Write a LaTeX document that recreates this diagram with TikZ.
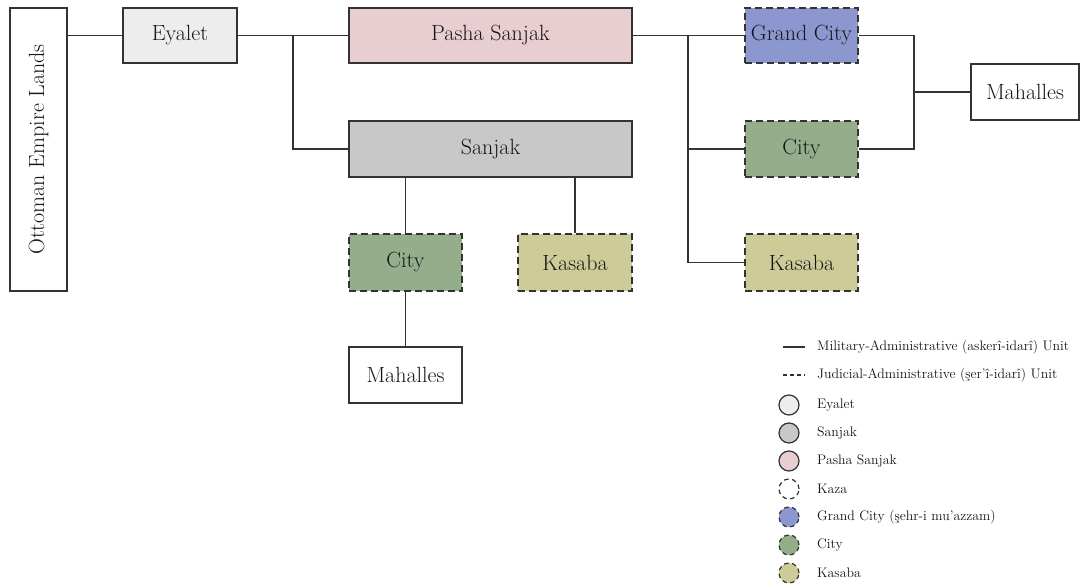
\documentclass[tikz,border=0pt]{standalone}
\usepackage{fontspec}
\definecolor{cEy}{HTML}{EDEDED}
\definecolor{cSa}{HTML}{C8C8C8}
\definecolor{cPa}{HTML}{E8CDD1}
\definecolor{cGr}{HTML}{8C97D0}
\definecolor{cCi}{HTML}{94AE8B}
\definecolor{cKa}{HTML}{CDCB98}
\definecolor{cLn}{HTML}{333333}
\definecolor{cTx}{HTML}{161616}
\begin{document}
\begin{tikzpicture}[x=1pt,y=-1pt,
  box/.style={draw=cLn,line width=1.3pt,inner sep=0pt,text=cTx,font=\fontsize{22}{26}\selectfont},
  dbox/.style={box,dash pattern=on 7pt off 4pt},
  conn/.style={draw=cLn,line width=1.3pt},
  lgc/.style={circle,draw=cLn,line width=1.2pt,minimum size=20pt,inner sep=0pt},
  lgd/.style={lgc,dash pattern=on 4.5pt off 3.5pt},
  lgt/.style={anchor=west,inner sep=0pt,text=cTx,font=\fontsize{13.8}{16}\selectfont}]
\useasboundingbox (0,0) rectangle (1080,588);
% boxes
\node[box,fill=white,minimum width=57pt,minimum height=283pt] (ot) at (38.5,149.5) {\rotatebox{90}{Ottoman Empire Lands}};
\node[box,fill=cEy,minimum width=114pt,minimum height=55pt] (ey) at (180,35.5) {Eyalet};
\node[box,fill=cPa,minimum width=283pt,minimum height=55pt] (pa) at (490.5,35.5) {Pasha Sanjak};
\node[box,fill=cSa,minimum width=283pt,minimum height=56pt] (sa) at (490.5,149) {Sanjak};
\node[dbox,fill=cCi,minimum width=113pt,minimum height=57pt] (cl) at (405.5,262.5) {City};
\node[dbox,fill=cKa,minimum width=114pt,minimum height=57pt] (kl) at (575,262.5) {Kasaba};
\node[box,fill=white,minimum width=113pt,minimum height=56pt] (ml) at (405.5,375) {Mahalles};
\node[dbox,fill=cGr,minimum width=113pt,minimum height=55pt] (gc) at (801.5,35.5) {Grand City};
\node[dbox,fill=cCi,minimum width=113pt,minimum height=56pt] (cr) at (801.5,149) {City};
\node[dbox,fill=cKa,minimum width=113pt,minimum height=57pt] (kr) at (801.5,262.5) {Kasaba};
\node[box,fill=white,minimum width=108pt,minimum height=56pt] (mr) at (1025,92) {Mahalles};
% connectors
\coordinate (j1) at (293,35.5);
\coordinate (j2) at (688,35.5);
\coordinate (j3) at (914,92);
\draw[conn] (ey.west -| ot.east) -- (ey.west);
\draw[conn] (ey.east) -- (pa.west);
\draw[conn] (j1) |- (sa.west);
\draw[conn] (pa.east) -- (gc.west);
\draw[conn] (j2) |- (cr.west);
\draw[conn] (j2) |- (kr.west);
\draw[conn] (gc.east) -| (j3) |- (cr.east);
\draw[conn] (j3) -- (mr.west);
\draw[conn] (cl.north |- sa.south) -- (cl.north);
\draw[conn] (kl.north |- sa.south) -- (kl.north);
\draw[conn] (cl.south) -- (ml.north);
% legend
\coordinate (l1a) at (783,347); \coordinate (l1b) at (805,347);
\coordinate (l2a) at (783,375); \coordinate (l2b) at (805,375);
\draw[conn,line width=1.2pt] (l1a) -- (l1b);
\draw[conn,line width=1.2pt,dash pattern=on 3.5pt off 3.5pt] (l2a) -- (l2b);
\node[lgt] (t1) at (817,347) {Military-Administrative (askerî-idarî) Unit};
\node[lgt] (t2) at (817,375) {Judicial-Administrative (şer’î-idarî) Unit};
\node[lgc,fill=cEy] (c1) at (789,405) {};
\node[lgc,fill=cSa] (c2) at (789,433) {};
\node[lgc,fill=cPa] (c3) at (789,461) {};
\node[lgd,fill=white] (c4) at (789,489) {};
\node[lgd,fill=cGr] (c5) at (789,517) {};
\node[lgd,fill=cCi] (c6) at (789,545) {};
\node[lgd,fill=cKa] (c7) at (789,573) {};
\node[lgt] (e1) at (817,405) {Eyalet};
\node[lgt] (e2) at (817,433) {Sanjak};
\node[lgt] (e3) at (817,461) {Pasha Sanjak};
\node[lgt] (e4) at (817,489) {Kaza};
\node[lgt] (e5) at (817,517) {Grand City (şehr-i mu’azzam)};
\node[lgt] (e6) at (817,545) {City};
\node[lgt] (e7) at (817,573) {Kasaba};
\end{tikzpicture}
\end{document}
